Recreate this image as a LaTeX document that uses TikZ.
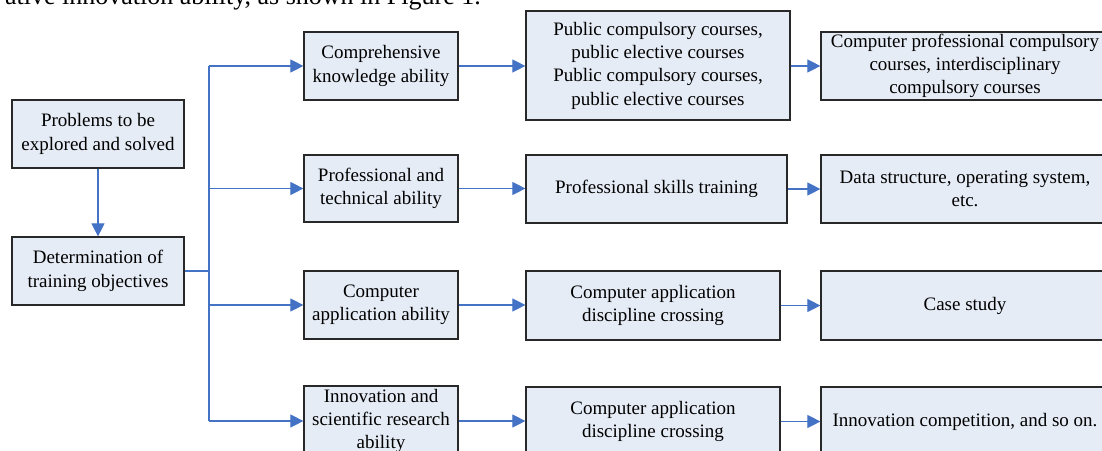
\documentclass[tikz,border=0pt]{standalone}
\usepackage{fontspec}
\setmainfont{Liberation Serif}
\usetikzlibrary{arrows.meta}
\definecolor{boxfill}{RGB}{230,236,246}
\definecolor{boxline}{RGB}{40,40,40}
\definecolor{arrowblue}{RGB}{68,114,196}
\tikzset{
  box/.style={draw=boxline, fill=boxfill, line width=1.2pt, align=center,
    inner sep=0pt, font=\fontsize{19}{23.3}\selectfont},
  conn/.style={draw=arrowblue, line width=1.1pt},
  arr/.style={conn, -{Triangle[length=13pt,width=13pt]}}
}
\begin{document}
\begin{tikzpicture}[x=1pt,y=-1pt]
\useasboundingbox (0,0) rectangle (1102,450);
\clip (0,0) rectangle (1102,450);
% clipped caption line of the page
\node[anchor=base east, inner sep=0pt, font=\fontsize{26}{30}\selectfont] (cap) at (481,4) {ative innovation ability, as shown in Figure 1.};
% left column
\node[box, minimum width=172pt, minimum height=68pt] (P) at (98,134) {Problems to be\\explored and solved};
\node[box, minimum width=172pt, minimum height=68pt] (D) at (98,271) {Determination of\\training objectives};
% second column
\node[box, minimum width=154pt, minimum height=68pt] (B1) at (381,66) {Comprehensive\\knowledge ability};
\node[box, minimum width=154pt, minimum height=67pt] (B2) at (381,188.5) {Professional and\\technical ability};
\node[box, minimum width=154pt, minimum height=68pt] (B3) at (381,305) {Computer\\application ability};
\node[box, minimum width=154pt, minimum height=70pt] (B4) at (381,421) {Innovation and\\scientific research\\ability};
% third column
\node[box, minimum width=264pt, minimum height=109pt] (C1) at (658,65.5) {Public compulsory courses,\\public elective courses\\Public compulsory courses,\\public elective courses};
\node[box, minimum width=261pt, minimum height=68pt] (C2) at (656.5,189) {Professional skills training};
\node[box, minimum width=254pt, minimum height=69pt] (C3) at (653,305.5) {Computer application\\discipline crossing};
\node[box, minimum width=254pt, minimum height=69pt] (C4) at (653,421.5) {Computer application\\discipline crossing};
% fourth column
\node[box, minimum width=288pt, minimum height=68pt] (E1) at (965,66) {Computer professional compulsory\\courses, interdisciplinary\\compulsory courses};
\node[box, minimum width=288pt, minimum height=68pt] (E2) at (965,189) {Data structure, operating system,\\etc.};
\node[box, minimum width=288pt, minimum height=69pt] (E3) at (965,305.5) {Case study};
\node[box, minimum width=288pt, minimum height=69pt] (E4) at (965,421.5) {Innovation competition, and so on.};
% trunk
\coordinate (ttop) at (209,66);
\coordinate (tbot) at (209,421);
% connectors
\draw[arr] (P.south) -- (D.north);
\draw[conn] (D.east) -- (D.east -| ttop);
\draw[conn] (ttop) -- (tbot);
\draw[arr] (ttop) -- (B1.west);
\draw[arr] (B2.west -| ttop) -- (B2.west);
\draw[arr] (B3.west -| ttop) -- (B3.west);
\draw[arr] (tbot) -- (B4.west);
\draw[arr] (B1.east) -- (B1.east -| C1.west);
\draw[arr] (B2.east) -- (B2.east -| C2.west);
\draw[arr] (B3.east) -- (B3.east -| C3.west);
\draw[arr] (B4.east) -- (B4.east -| C4.west);
\draw[arr] (C1.east |- E1.west) -- (E1.west);
\draw[arr] (C2.east |- E2.west) -- (E2.west);
\draw[arr] (C3.east |- E3.west) -- (E3.west);
\draw[arr] (C4.east |- E4.west) -- (E4.west);
\end{tikzpicture}
\end{document}
